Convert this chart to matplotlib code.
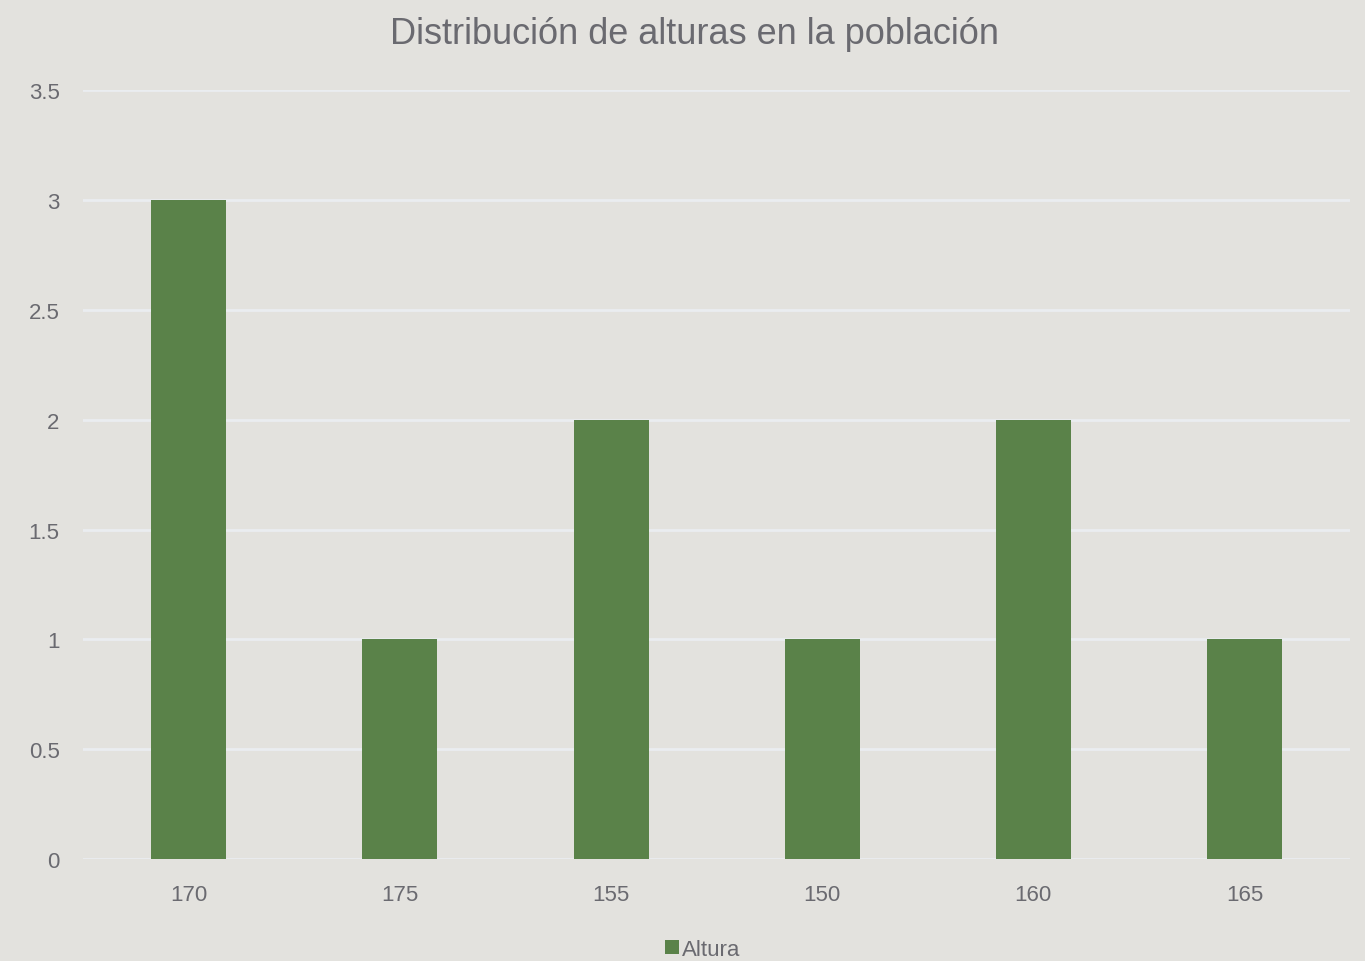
import numpy as np
import matplotlib
matplotlib.use("Agg")
import matplotlib.pyplot as plt

categories = ["170", "175", "155", "150", "160", "165"]
counts = [3, 1, 2, 1, 2, 1]
series_name = "Altura"
title = "Distribución de alturas en la población"
yticks = [0, 0.5, 1, 1.5, 2, 2.5, 3, 3.5]
ytick_labels = ["0", "0.5", "1", "1.5", "2", "2.5", "3", "3.5"]

bg = "#e3e2de"
bar_color = "#5a8249"
text_color = "#6a6a70"
grid_color = "#eaedf0"

plt.rcParams['font.family'] = ['Liberation Sans', 'DejaVu Sans']

fig = plt.figure(figsize=(13.65, 9.62), dpi=100, facecolor=bg)
ax = fig.add_axes([0.061, 0.106, 0.928, 0.799])
ax.set_facecolor(bg)

x = np.arange(len(categories))
ax.bar(x, counts, width=0.355, color=bar_color, label=series_name, zorder=3)

ax.set_xlim(-0.5, len(categories) - 0.5)
ax.set_ylim(0, 3.5)
ax.set_yticks(yticks)
ax.set_yticklabels(ytick_labels)
ax.set_xticks(x)
ax.set_xticklabels(categories)
ax.grid(True, axis='y', color=grid_color, linewidth=2, zorder=0)
ax.tick_params(axis='both', length=0, colors=text_color, labelsize=16)
ax.tick_params(axis='y', pad=17)
ax.tick_params(axis='x', pad=18)
for s in ax.spines.values():
    s.set_visible(False)

fig.text(0.509, 0.964, title, ha='center', va='center', fontsize=26,
         color=text_color)

leg = fig.legend(loc='center', bbox_to_anchor=(0.515, 0.012), frameon=False,
                 fontsize=16, handlelength=0.6, handleheight=0.6,
                 handletextpad=0.15, labelcolor=text_color)

fig.savefig("out.png", dpi=100, facecolor=bg)
